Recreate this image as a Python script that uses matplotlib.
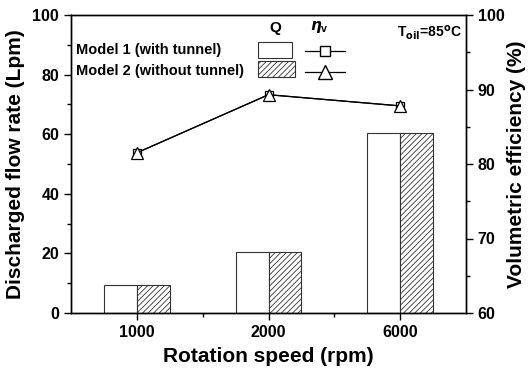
import matplotlib
matplotlib.use("Agg")
import matplotlib.pyplot as plt
from matplotlib.patches import Rectangle
from matplotlib.lines import Line2D
import numpy as np

speeds = ["1000", "2000", "6000"]
flow_m1 = [9.4, 20.6, 60.4]
flow_m2 = [9.4, 20.6, 60.4]
eff_m1 = [81.5, 89.3, 87.8]
eff_m2 = [81.5, 89.3, 87.8]

plt.rcParams["font.family"] = ["Liberation Sans", "DejaVu Sans"]
plt.rcParams["font.weight"] = "bold"
plt.rcParams["hatch.linewidth"] = 0.6
plt.rcParams["hatch.color"] = "#555555"

fig = plt.figure(figsize=(5.28, 3.75), dpi=100)
ax = fig.add_axes([71 / 528, 1 - 313 / 375, (466 - 71) / 528, (313 - 15) / 375])
ax2 = ax.twinx()

x = np.arange(1, len(speeds) + 1)
w = 0.25
ax.bar(x - w / 2, flow_m1, w, color="white", edgecolor="#333333", lw=0.8, zorder=2)
ax.bar(x + w / 2, flow_m2, w, color="white", edgecolor="#333333", lw=0.8,
       hatch="//////", zorder=2)

ax2.plot(x, eff_m1, "-s", color="black", lw=0.9, ms=6, mfc="white", mec="black", mew=0.9)
ax2.plot(x, eff_m2, "-^", color="black", lw=0.9, ms=8, mfc="white", mec="black", mew=0.9)

ax.set_xlim(0.5, 3.5)
ax.set_ylim(0, 100)
ax2.set_ylim(60, 100)
ax.set_xticks(x)
ax.set_xticklabels(speeds)
ax.set_xticks([1.5, 2.5], minor=True)
ax.set_yticks([0, 20, 40, 60, 80, 100])
ax.set_yticks([10, 30, 50, 70, 90], minor=True)
ax2.set_yticks([60, 70, 80, 90, 100])
ax2.set_yticks([65, 75, 85, 95], minor=True)

for a in (ax, ax2):
    a.tick_params(which="major", length=5, width=1, labelsize=11.5)
    a.tick_params(which="minor", length=3, width=1)
    for s in a.spines.values():
        s.set_linewidth(1)

ax.set_xlabel("Rotation speed (rpm)", fontsize=15, fontweight="bold", labelpad=5)
ax.set_ylabel("Discharged flow rate (Lpm)", fontsize=15, fontweight="bold", labelpad=5)
ax2.set_ylabel("Volumetric efficiency (%)", fontsize=15, fontweight="bold", labelpad=2)

# hand-built legend
fs = 10.5
fig.text(76 / 528, 1 - 50 / 375, "Model 1 (with tunnel)", fontsize=fs, va="center")
fig.text(76 / 528, 1 - 71 / 375, "Model 2 (without tunnel)", fontsize=fs, va="center")
fig.text(275 / 528, 1 - 28 / 375, "Q", fontsize=fs + 0.5, va="center", ha="center")
fig.text(319 / 528, 1 - 27 / 375, r"$\eta_\mathregular{v}$", fontsize=fs + 0.5,
         va="center", ha="center")
fig.text(397 / 528, 1 - 33 / 375, r"T$_{\mathbf{oil}}$=85$^{\mathbf{o}}$C", fontsize=10,
         va="center")

fig.patches.append(Rectangle((258 / 528, 1 - 58 / 375), 34 / 528, 16 / 375,
                             transform=fig.transFigure, fc="white", ec="#333333", lw=0.8))
fig.patches.append(Rectangle((258 / 528, 1 - 77 / 375), 37 / 528, 16 / 375,
                             transform=fig.transFigure, fc="white", ec="#333333", lw=0.8,
                             hatch="//////"))
lx = [305 / 528, 325 / 528, 345 / 528]
fig.lines.append(Line2D(lx, [1 - 51 / 375] * 3, transform=fig.transFigure,
                        color="black", lw=0.9, marker="s", markevery=[1], ms=7, mfc="white"))
fig.lines.append(Line2D(lx, [1 - 72 / 375] * 3, transform=fig.transFigure,
                        color="black", lw=0.9, marker="^", markevery=[1], ms=10, mfc="white"))

fig.savefig("out.png", dpi=100)
